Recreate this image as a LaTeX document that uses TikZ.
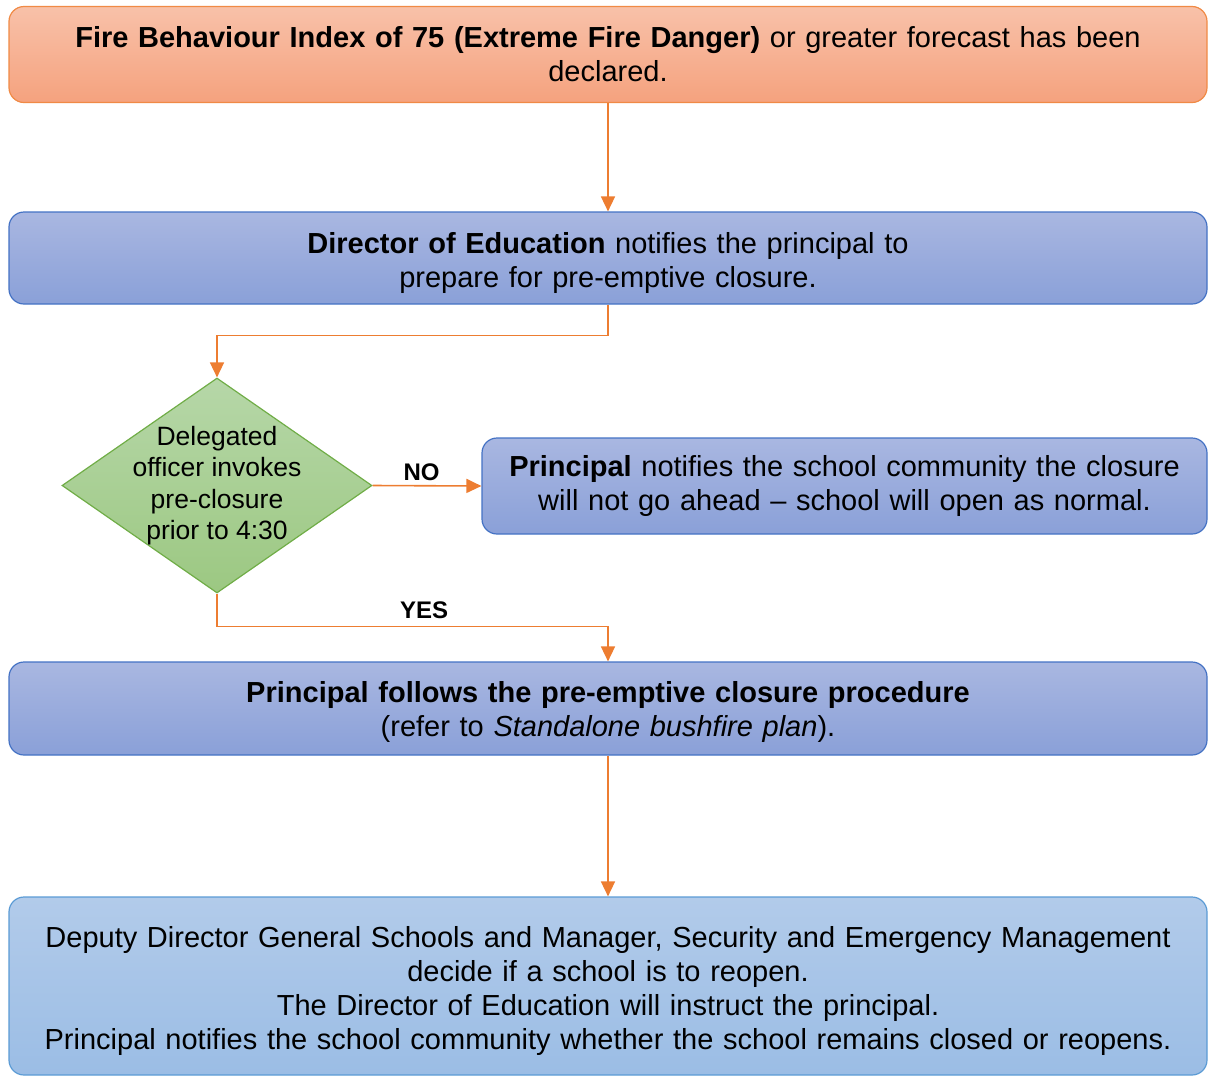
\documentclass[tikz,border=0pt]{standalone}
\usepackage{fontspec}
\setmainfont{Liberation Sans}
\usetikzlibrary{shapes.geometric,arrows.meta}
\definecolor{orangeline}{HTML}{F08A45}
\definecolor{orangetop}{HTML}{F8C1A9}
\definecolor{orangebot}{HTML}{F5A27E}
\definecolor{blueline}{HTML}{4472C4}
\definecolor{bluetop}{HTML}{A9B7E1}
\definecolor{bluebot}{HTML}{8AA0D8}
\definecolor{skyline}{HTML}{5B9BD5}
\definecolor{skytop}{HTML}{B2CBEA}
\definecolor{skybot}{HTML}{9BBDE5}
\definecolor{greenline}{HTML}{70AD47}
\definecolor{greentop}{HTML}{B6D7A8}
\definecolor{greenbot}{HTML}{9CC882}
\definecolor{arrowline}{HTML}{ED7D31}
\newcommand{\firstline}[1]{\rule{0pt}{#1}}
\begin{document}
\begin{tikzpicture}[x=1pt,y=-1pt]
	\tikzstyle{box}=[draw,rounded corners=15pt,line width=1.2pt,minimum width=1198pt,inner sep=0pt,text width=1190pt,align=center,font=\fontsize{29}{34}\selectfont]
	\tikzstyle{firebox}=[box,draw=orangeline,top color=orangetop,bottom color=orangebot]
	\tikzstyle{stepbox}=[box,draw=blueline,top color=bluetop,bottom color=bluebot]
	\tikzstyle{endbox}=[box,draw=skyline,top color=skytop,bottom color=skybot]
	\tikzstyle{decision}=[diamond,draw=greenline,line width=1.2pt,top color=greentop,bottom color=greenbot,minimum width=310pt,minimum height=215pt,inner sep=-30pt,align=center,font=\fontsize{26.5}{31.3}\selectfont]
	\tikzstyle{arr}=[draw=arrowline,line width=1.6pt,-{Triangle[length=15pt,width=14pt]}]
	\tikzstyle{lbl}=[font=\bfseries\fontsize{24}{28}\selectfont,inner sep=3pt]
	\useasboundingbox (0,0) rectangle (1208,1077);
	% boxes and decision
	\node[firebox,minimum height=96pt](fbi) at (608,54.5) {\textbf{Fire Behaviour Index of 75 (Extreme Fire Danger)} or greater forecast has been\\ declared.};
	\node[stepbox,minimum height=92pt](doe) at (608,258) {\firstline{31pt}\textbf{Director of Education} notifies the principal to\\ prepare for pre-emptive closure.};
	\node[decision](dec) at (217,485.5) {Delegated\\ officer invokes\\ pre-closure\\ prior to 4:30};
	\node[stepbox,minimum width=725pt,text width=720pt,minimum height=96pt](no) at (844.5,486) {\textbf{Principal} notifies the school community the closure\\ will not go ahead -- school will open as normal.};
	\node[stepbox,minimum height=93pt](proc) at (608,708.5) {\firstline{28pt}\textbf{Principal follows the pre-emptive closure procedure}\\ (refer to \textit{Standalone bushfire plan}).};
	\node[endbox,minimum height=178pt](ddg) at (608,986) {\firstline{31pt}Deputy Director General Schools and Manager, Security and Emergency Management\\ decide if a school is to reopen.\\ The Director of Education will instruct the principal.\\ Principal notifies the school community whether the school remains closed or reopens.};
	% connectors
	\draw[arr](fbi) -- (doe);
	\draw[arr](doe.south) -- ++(0,31) -| (dec.north);
	\draw[arr](dec.east) -- node[lbl,pos=0.45,above,yshift=1pt](lno) {NO} (no.west);
	\draw[arr](dec.south) -- ++(0,33) -| node[lbl,pos=0.265,above,yshift=4pt](lyes) {YES} (proc.north);
	\draw[arr](proc) -- (ddg);
\end{tikzpicture}
\end{document}
